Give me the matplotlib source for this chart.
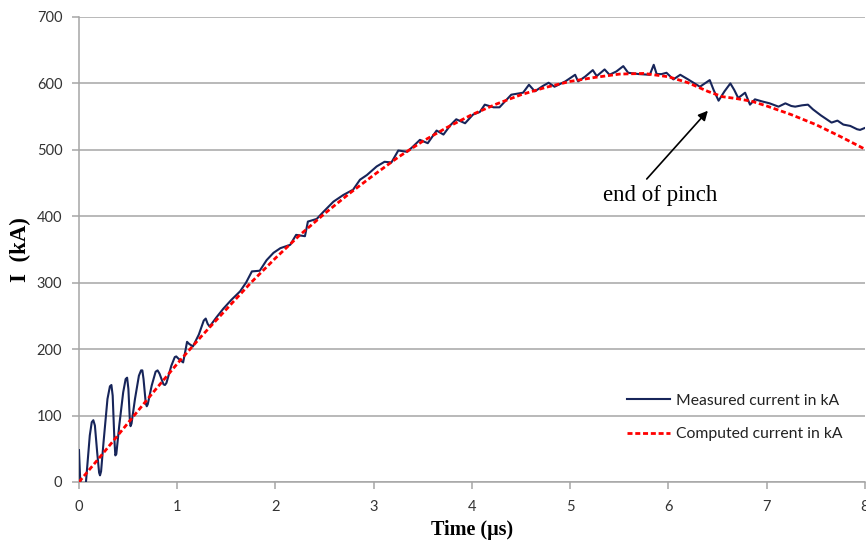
import matplotlib
matplotlib.use("Agg")
import matplotlib.pyplot as plt

# measured current (kA) vs time (us)
t_meas = [0.00, 0.012, 0.03, 0.055, 0.07, 0.085, 0.11, 0.13, 0.146, 0.162, 0.185, 0.205, 0.214, 0.225,
          0.25, 0.29, 0.315, 0.33, 0.343, 0.36, 0.37, 0.38, 0.41, 0.45, 0.475, 0.49, 0.503, 0.518,
          0.525, 0.535, 0.57, 0.61, 0.632, 0.645, 0.657, 0.68, 0.69, 0.70, 0.74, 0.78, 0.80, 0.82,
          0.86, 0.875, 0.89, 0.94, 0.975, 0.99, 1.01, 1.06, 1.08, 1.10, 1.12, 1.16, 1.22, 1.27,
          1.29, 1.31, 1.33, 1.40, 1.47, 1.55, 1.64, 1.70, 1.76, 1.84, 1.91, 1.98, 2.05, 2.15,
          2.21, 2.30, 2.33, 2.42, 2.49, 2.59, 2.69, 2.79, 2.86, 2.93, 3.03, 3.11, 3.18, 3.25,
          3.34, 3.40, 3.47, 3.55, 3.64, 3.71, 3.78, 3.84, 3.93, 4.01, 4.08, 4.13, 4.22, 4.28,
          4.35, 4.40, 4.52, 4.58, 4.64, 4.72, 4.78, 4.84, 4.95, 5.05, 5.08, 5.15, 5.23, 5.27,
          5.35, 5.40, 5.47, 5.54, 5.59, 5.70, 5.81, 5.85, 5.88, 5.93, 5.98, 6.05, 6.12, 6.20,
          6.32, 6.42, 6.46, 6.51, 6.57, 6.63, 6.67, 6.71, 6.78, 6.83, 6.88, 6.95, 7.03, 7.12,
          7.19, 7.25, 7.29, 7.36, 7.42, 7.47, 7.55, 7.66, 7.72, 7.78, 7.85, 7.92, 7.95, 8.00]
i_meas = [48, 5, -20, -20, -2, 25, 70, 90, 93, 85, 45, 14, 10, 16,
          60, 125, 144, 146, 130, 65, 40, 42, 85, 135, 155, 157, 140, 92,
          84, 88, 125, 160, 168, 168, 155, 118, 114, 117, 145, 166, 168, 163,
          147, 146, 149, 175, 188, 189, 186, 180, 195, 211, 208, 204, 222, 243,
          246, 238, 234, 248, 261, 274, 287, 300, 317, 318, 334, 345, 352, 357,
          372, 370, 392, 396, 407, 422, 432, 440, 455, 462, 475, 482, 481, 499,
          497, 505, 515, 510, 529, 523, 537, 546, 540, 553, 557, 568, 564, 564,
          575, 583, 586, 598, 588, 596, 601, 595, 603, 613, 603, 610, 620, 611,
          621, 613, 618, 626, 616, 614, 613, 628, 614, 614, 616, 606, 613, 606,
          595, 605, 590, 574, 588, 600, 590, 578, 586, 568, 576, 573, 570, 565,
          570, 566, 565, 567, 568, 561, 552, 541, 544, 538, 536, 531, 530, 533]

# computed current (kA)
t_comp = [0, 0.25, 0.5, 0.75, 1.0, 1.25, 1.5, 1.75, 2.0, 2.25, 2.5, 2.75, 3.0, 3.25, 3.5, 3.75,
          4.0, 4.25, 4.5, 4.75, 5.0, 5.25, 5.5, 5.75, 6.0, 6.2, 6.4, 6.55, 6.7, 6.85, 7.0,
          7.25, 7.5, 7.75, 8.0]
i_comp = [0, 44, 89, 134, 178, 220, 260, 300, 337, 372, 404, 434, 462, 489, 513, 534,
          553, 569, 583, 594, 603, 609, 614, 615, 610, 601, 588, 580, 577, 573, 566,
          553, 538, 520, 501]

x_ticks = [0, 1, 2, 3, 4, 5, 6, 7, 8]
y_ticks = [0, 100, 200, 300, 400, 500, 600, 700]

tick_font = "Lato"
serif = "Liberation Serif"

fig = plt.figure(figsize=(8.66, 5.44), dpi=100)
ax = fig.add_axes([0.0912, 0.114, 0.9076, 0.8548])

ax.plot(t_meas, i_meas, color="#17255a", lw=1.5, label="Measured current in kA", zorder=3)
ax.plot(t_comp, i_comp, color="#ff0000", lw=2.0, dashes=(1.8, 1.0),
        label="Computed current in kA", zorder=4)

ax.set_xlim(0, 8)
ax.set_ylim(0, 700)
ax.set_xticks(x_ticks)
ax.set_yticks(y_ticks)
ax.yaxis.grid(True, color="#a6a6a6", lw=1.1)
ax.set_axisbelow(True)

for s in ["top", "right"]:
    ax.spines[s].set_visible(False)
for s in ["left", "bottom"]:
    ax.spines[s].set_color("#a6a6a6")
    ax.spines[s].set_linewidth(1.1)

ax.tick_params(axis="both", colors="#a6a6a6", labelcolor="#333333", length=5, width=1.1)
ax.tick_params(axis="x", pad=8)
ax.tick_params(axis="y", length=5, pad=7)
for lab in ax.get_xticklabels() + ax.get_yticklabels():
    lab.set_fontfamily(tick_font)
    lab.set_fontsize(10.5)

ax.set_xlabel("Time (\u03bcs)", fontfamily=serif, fontweight="bold", fontsize=14.5, labelpad=4)
ax.set_ylabel("I  (kA)", fontfamily=serif, fontweight="bold", fontsize=16.5, labelpad=4)

ax.annotate("", xy=(6.42, 562), xytext=(5.76, 453),
            arrowprops=dict(arrowstyle="-|>", color="black", lw=1.2, mutation_scale=14))
ax.text(5.92, 431, "end of pinch", fontfamily=serif, fontsize=16.5,
        ha="center", va="center")

leg = ax.legend(loc="upper left", bbox_to_anchor=(0.687, 0.207), frameon=False,
                borderpad=0, handlelength=2.75, handletextpad=0.38, labelspacing=1.25,
                prop={"family": tick_font, "size": 11.3})
for txt in leg.get_texts():
    txt.set_color("#222222")

fig.savefig("out.png", dpi=100)
